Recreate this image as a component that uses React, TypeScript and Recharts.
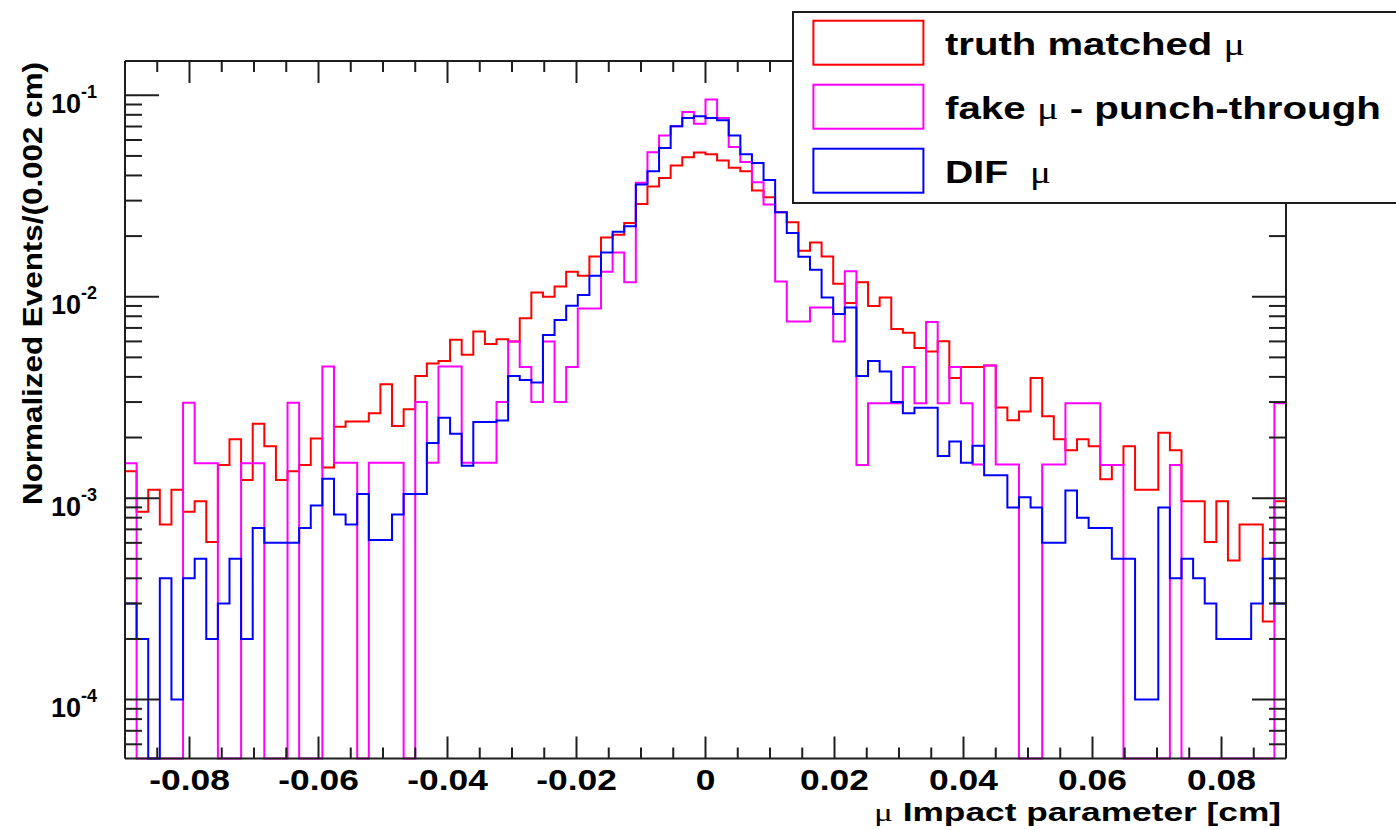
import React from 'react';
import { LineChart, Line, XAxis, YAxis, Legend } from 'recharts';

// ---- binning (100 bins spanning the visible range) ----
const BIN_LOW = -0.09;
const BIN_WIDTH = 0.0018;
const X_MIN = -0.09;
const X_MAX = 0.09;
const Y_MIN = 5.1e-5;
const Y_MAX = 0.148;

// ---- series values, one per bin (0 = empty bin) ----
const TRUTH_MATCHED = [
  1.36e-3, 8.55e-4, 1.1e-3, 7.4e-4, 1.1e-3, 8.55e-4, 9.66e-4, 6.06e-4, 1.46e-3, 1.96e-3,
  1.23e-3, 2.34e-3, 1.81e-3, 1.23e-3, 1.36e-3, 1.46e-3, 1.98e-3, 1.42e-3, 2.26e-3, 2.4e-3,
  2.4e-3, 2.64e-3, 3.68e-3, 2.28e-3, 2.76e-3, 4.04e-3, 4.66e-3, 4.8e-3, 6.11e-3, 5.15e-3,
  6.72e-3, 5.82e-3, 6.15e-3, 5.99e-3, 7.83e-3, 1.05e-2, 1.0e-2, 1.125e-2, 1.33e-2, 1.27e-2,
  1.585e-2, 1.97e-2, 2.03e-2, 2.32e-2, 2.89e-2, 3.53e-2, 3.88e-2, 4.48e-2, 4.93e-2, 5.2e-2,
  5.09e-2, 4.75e-2, 4.37e-2, 4.2e-2, 3.37e-2, 3.12e-2, 2.63e-2, 2.34e-2, 1.69e-2, 1.86e-2,
  1.585e-2, 1.16e-2, 9.31e-3, 1.18e-2, 9.0e-3, 9.92e-3, 6.92e-3, 6.62e-3, 5.56e-3, 5.35e-3,
  6.01e-3, 3.95e-3, 4.48e-3, 4.48e-3, 4.56e-3, 2.82e-3, 2.44e-3, 2.69e-3, 3.95e-3, 2.55e-3,
  1.96e-3, 1.73e-3, 1.96e-3, 1.81e-3, 1.24e-3, 1.46e-3, 1.81e-3, 1.1e-3, 1.1e-3, 2.11e-3,
  1.73e-3, 9.66e-4, 9.66e-4, 6.06e-4, 9.66e-4, 4.9e-4, 7.4e-4, 7.4e-4, 2.44e-4, 9.66e-4,
];

const FAKE_PUNCH_THROUGH = [
  1.49e-3, 0, 0, 0, 0, 2.98e-3, 1.49e-3, 1.49e-3, 0, 0,
  1.49e-3, 1.49e-3, 0, 0, 2.98e-3, 0, 0, 4.5e-3, 1.5e-3, 1.5e-3,
  0, 1.5e-3, 1.5e-3, 1.5e-3, 0, 3.0e-3, 1.5e-3, 4.5e-3, 4.5e-3, 1.5e-3,
  1.5e-3, 1.5e-3, 3.0e-3, 6.0e-3, 4.48e-3, 3.0e-3, 6.0e-3, 3.0e-3, 4.48e-3, 8.75e-3,
  8.75e-3, 1.33e-2, 1.66e-2, 1.18e-2, 3.68e-2, 5.22e-2, 6.32e-2, 7.01e-2, 8.26e-2, 7.23e-2,
  9.52e-2, 7.71e-2, 5.53e-2, 4.66e-2, 3.7e-2, 2.87e-2, 1.19e-2, 7.54e-3, 7.54e-3, 8.85e-3,
  8.85e-3, 5.99e-3, 1.34e-2, 1.46e-3, 2.96e-3, 2.96e-3, 2.96e-3, 4.48e-3, 2.96e-3, 7.5e-3,
  2.96e-3, 4.48e-3, 2.96e-3, 1.47e-3, 4.56e-3, 1.47e-3, 1.47e-3, 0, 0, 1.47e-3,
  1.47e-3, 2.96e-3, 2.96e-3, 2.96e-3, 1.46e-3, 1.46e-3, 0, 0, 0, 0,
  1.46e-3, 0, 0, 0, 0, 0, 0, 0, 0, 2.96e-3,
];

const DIF_MU = [
  3.0e-4, 2.0e-4, 0, 4.0e-4, 1.0e-4, 4.0e-4, 5.0e-4, 2.0e-4, 3.0e-4, 5.0e-4,
  2.0e-4, 7.1e-4, 6.0e-4, 6.0e-4, 6.0e-4, 7.1e-4, 9.2e-4, 1.25e-3, 8.3e-4, 7.4e-4,
  1.05e-3, 6.2e-4, 6.2e-4, 8.3e-4, 1.05e-3, 1.05e-3, 1.88e-3, 2.51e-3, 2.09e-3, 1.45e-3,
  2.39e-3, 2.39e-3, 2.43e-3, 4.04e-3, 3.86e-3, 3.75e-3, 6.45e-3, 7.66e-3, 9.02e-3, 1.02e-2,
  1.27e-2, 1.66e-2, 2.1e-2, 2.24e-2, 3.61e-2, 4.2e-2, 5.47e-2, 7.01e-2, 7.71e-2, 7.86e-2,
  7.71e-2, 7.51e-2, 6.32e-2, 5.09e-2, 4.61e-2, 3.8e-2, 2.63e-2, 2.07e-2, 1.58e-2, 1.36e-2,
  9.92e-3, 8.2e-3, 8.85e-3, 4.04e-3, 4.8e-3, 4.25e-3, 3.0e-3, 2.64e-3, 2.81e-3, 2.81e-3,
  1.62e-3, 1.91e-3, 1.5e-3, 1.82e-3, 1.3e-3, 1.3e-3, 9.0e-4, 1.01e-3, 9.0e-4, 6.0e-4,
  6.0e-4, 1.09e-3, 8.0e-4, 7.1e-4, 7.1e-4, 5.0e-4, 5.0e-4, 1.0e-4, 1.0e-4, 9.0e-4,
  4.0e-4, 5.0e-4, 4.0e-4, 3.0e-4, 2.0e-4, 2.0e-4, 2.0e-4, 3.0e-4, 5.0e-4, 3.0e-4,
];

const SERIES_NAMES = ['truth matched \u03bc', 'fake \u03bc - punch-through', 'DIF  \u03bc'];
const SERIES_COLORS = ['#ff0000', '#ff00ff', '#0000ff'];
const LEGEND_TEXT_LENGTHS = [300, 436, 106];

// ---- ticks ----
const X_MAJOR_TICKS = [-0.08, -0.06, -0.04, -0.02, 0, 0.02, 0.04, 0.06, 0.08];
const X_TICK_LABELS = ['-0.08', '-0.06', '-0.04', '-0.02', '0', '0.02', '0.04', '0.06', '0.08'];
const X_MINOR_TICKS = [
  -0.085, -0.075, -0.07, -0.065, -0.055, -0.05, -0.045, -0.035, -0.03, -0.025, -0.015, -0.01, -0.005,
  0.005, 0.01, 0.015, 0.025, 0.03, 0.035, 0.045, 0.05, 0.055, 0.065, 0.07, 0.075, 0.085,
];
const Y_MAJOR_TICKS = [1e-4, 1e-3, 1e-2, 1e-1];
const Y_TICK_EXPONENTS = ['-4', '-3', '-2', '-1'];
const Y_MINOR_TICKS = [
  6e-5, 7e-5, 8e-5, 9e-5,
  2e-4, 3e-4, 4e-4, 5e-4, 6e-4, 7e-4, 8e-4, 9e-4,
  2e-3, 3e-3, 4e-3, 5e-3, 6e-3, 7e-3, 8e-3, 9e-3,
  2e-2, 3e-2, 4e-2, 5e-2, 6e-2, 7e-2, 8e-2, 9e-2,
];

const X_TITLE = 'Impact parameter [cm]';
const Y_TITLE = 'Normalized Events/(0.002 cm)';

const FRAME = '#1e1e1e';
const SANS = '"Liberation Sans", Arial, Helvetica, sans-serif';
const SERIF = '"Liberation Serif", "Times New Roman", serif';

const floorValue = (v: number) => (v > 0 ? v : Y_MIN);

// step data: one point at each bin's low edge, plus closing point at the upper edge
const data = Array.from({ length: TRUTH_MATCHED.length + 1 }, (_, i) => {
  const j = Math.min(i, TRUTH_MATCHED.length - 1);
  return {
    x: +(BIN_LOW + i * BIN_WIDTH).toFixed(6),
    truth: floorValue(TRUTH_MATCHED[j]),
    fake: floorValue(FAKE_PUNCH_THROUGH[j]),
    dif: floorValue(DIF_MU[j]),
  };
});

const X_ALL_TICKS = [...X_MAJOR_TICKS, ...X_MINOR_TICKS];
const Y_ALL_TICKS = [...Y_MAJOR_TICKS, ...Y_MINOR_TICKS];

const XTickBottom = (props: any) => {
  const { x, y, payload } = props;
  const idx = X_MAJOR_TICKS.indexOf(payload.value);
  const len = idx >= 0 ? 22 : 11;
  return (
    <g>
      <line x1={x} x2={x} y1={y} y2={y - len} stroke={FRAME} strokeWidth={2} />
      {idx >= 0 && (
        <text
          transform={`translate(${x},${y + 31.5}) scale(1.22,1)`}
          textAnchor="middle"
          fontFamily={SANS}
          fontWeight="bold"
          fontSize={29}
          fill="#000"
        >
          {X_TICK_LABELS[idx]}
        </text>
      )}
    </g>
  );
};

const XTickTop = (props: any) => {
  const { x, y, payload } = props;
  const len = X_MAJOR_TICKS.indexOf(payload.value) >= 0 ? 22 : 11;
  return <line x1={x} x2={x} y1={y} y2={y + len} stroke={FRAME} strokeWidth={2} />;
};

const YTickLeft = (props: any) => {
  const { x, y, payload } = props;
  const idx = Y_MAJOR_TICKS.indexOf(payload.value);
  const len = idx >= 0 ? 34 : 17;
  return (
    <g>
      <line x1={x} x2={x + len} y1={y} y2={y} stroke={FRAME} strokeWidth={2} />
      {idx >= 0 && (
        <text x={x - 28} y={y + 17.5} textAnchor="end" fontFamily={SANS} fontWeight="bold" fill="#000">
          <tspan fontSize={27}>10</tspan>
          <tspan fontSize={18} dy={-15}>
            {Y_TICK_EXPONENTS[idx]}
          </tspan>
        </text>
      )}
    </g>
  );
};

const YTickRight = (props: any) => {
  const { x, y, payload } = props;
  const len = Y_MAJOR_TICKS.indexOf(payload.value) >= 0 ? 34 : 17;
  return <line x1={x} x2={x - len} y1={y} y2={y} stroke={FRAME} strokeWidth={2} />;
};

const XTitle = (props: any) => {
  const vb = props.viewBox || {};
  return (
    <text
      x={vb.x + vb.width - 5}
      y={vb.y + 62}
      textAnchor="end"
      fontFamily={SANS}
      fontWeight="bold"
      fontSize={26}
      fill="#000"
      textLength={407}
      lengthAdjust="spacingAndGlyphs"
    >
      <tspan fontFamily={SERIF} fontWeight="normal">{'\u03bc'}</tspan>
      <tspan>{' ' + X_TITLE}</tspan>
    </text>
  );
};

const YTitle = (props: any) => {
  const vb = props.viewBox || {};
  return (
    <text
      transform={`translate(41.5,${vb.y + 1}) rotate(-90)`}
      textAnchor="end"
      fontFamily={SANS}
      fontWeight="bold"
      fontSize={27}
      fill="#000"
      textLength={443}
      lengthAdjust="spacingAndGlyphs"
    >
      {Y_TITLE}
    </text>
  );
};

const renderLegend = (props: any) => {
  const payload = [...(props.payload || [])].sort(
    (a: any, b: any) => SERIES_NAMES.indexOf(String(a.value)) - SERIES_NAMES.indexOf(String(b.value)),
  );
  return (
    <svg width={604} height={193} style={{ display: 'block' }}>
      <rect x={0} y={0} width={604} height={193} fill="#fff" />
      <path d="M604,1 H1 V192 H604" fill="none" stroke={FRAME} strokeWidth={2} />
      {payload.map((entry: any, i: number) => {
        const name: string = String(entry.value);
        const si = SERIES_NAMES.indexOf(name);
        const parts = name.replace(/ {2}/g, ' \u00a0').split('\u03bc');
        const top = 9.7 + i * 64;
        return (
          <g key={name}>
            <rect x={21.4} y={top} width={110} height={44} fill="none" stroke={entry.color} strokeWidth={2} />
            <text
              x={153}
              y={top + 34.3}
              fontFamily={SANS}
              fontWeight="bold"
              fontSize={32}
              fill="#000"
              textLength={LEGEND_TEXT_LENGTHS[si >= 0 ? si : i]}
              lengthAdjust="spacingAndGlyphs"
            >
              {parts.map((p, k) => (
                <React.Fragment key={k}>
                  {p && <tspan>{p}</tspan>}
                  {k < parts.length - 1 && (
                    <tspan fontFamily={SERIF} fontWeight="normal">
                      {'\u03bc'}
                    </tspan>
                  )}
                </React.Fragment>
              ))}
            </text>
          </g>
        );
      })}
    </svg>
  );
};

export default function App() {
  return (
    <div
      style={{
        position: 'absolute',
        left: 0,
        top: 0,
        width: 1396,
        height: 830,
        background: '#fff',
        overflow: 'hidden',
      }}
    >
      <LineChart
        width={1396}
        height={830}
        data={data}
        margin={{ top: 60, right: 109, bottom: 70.5, left: 124 }}
      >
        <XAxis
          dataKey="x"
          type="number"
          domain={[X_MIN, X_MAX]}
          allowDataOverflow
          ticks={X_ALL_TICKS}
          interval={0}
          height={1}
          tickSize={0}
          tickMargin={0}
          tickLine={false}
          axisLine={{ stroke: FRAME, strokeWidth: 2 }}
          tick={XTickBottom}
          label={XTitle}
        />
        <XAxis
          xAxisId="top"
          dataKey="x"
          orientation="top"
          type="number"
          domain={[X_MIN, X_MAX]}
          allowDataOverflow
          ticks={X_ALL_TICKS}
          interval={0}
          height={1}
          tickSize={0}
          tickMargin={0}
          tickLine={false}
          axisLine={{ stroke: FRAME, strokeWidth: 2 }}
          tick={XTickTop}
        />
        <YAxis
          scale="log"
          type="number"
          domain={[Y_MIN, Y_MAX]}
          ticks={Y_ALL_TICKS}
          interval={0}
          width={1}
          tickSize={0}
          tickMargin={0}
          tickLine={false}
          axisLine={{ stroke: FRAME, strokeWidth: 2 }}
          tick={YTickLeft}
          label={YTitle}
        />
        <YAxis
          yAxisId="right"
          orientation="right"
          scale="log"
          type="number"
          domain={[Y_MIN, Y_MAX]}
          allowDataOverflow
          ticks={Y_ALL_TICKS}
          interval={0}
          width={1}
          tickSize={0}
          tickMargin={0}
          tickLine={false}
          axisLine={{ stroke: FRAME, strokeWidth: 2 }}
          tick={YTickRight}
        />
        <Line
          dataKey="truth"
          name={SERIES_NAMES[0]}
          type="stepAfter"
          stroke={SERIES_COLORS[0]}
          strokeWidth={2}
          dot={false}
          activeDot={false}
          isAnimationActive={false}
        />
        <Line
          dataKey="fake"
          name={SERIES_NAMES[1]}
          type="stepAfter"
          stroke={SERIES_COLORS[1]}
          strokeWidth={2}
          dot={false}
          activeDot={false}
          isAnimationActive={false}
        />
        <Line
          dataKey="dif"
          name={SERIES_NAMES[2]}
          type="stepAfter"
          stroke={SERIES_COLORS[2]}
          strokeWidth={2}
          dot={false}
          activeDot={false}
          isAnimationActive={false}
        />
        <Legend
          layout="horizontal"
          verticalAlign="middle"
          align="center"
          wrapperStyle={{ position: 'absolute', left: 792, top: 11, width: 604, height: 193 }}
          content={renderLegend}
        />
      </LineChart>
    </div>
  );
}
